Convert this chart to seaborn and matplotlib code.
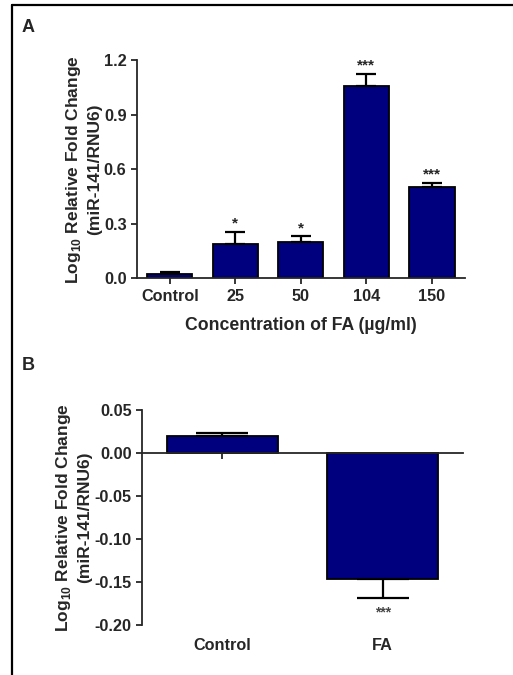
import numpy as np
import pandas as pd
import matplotlib
matplotlib.use("Agg")
import matplotlib.pyplot as plt
from matplotlib.lines import Line2D
import seaborn as sns

# Panel A: dose response
conc_labels = ["Control", "25", "50", "104", "150"]
conc_means = [0.022, 0.187, 0.198, 1.059, 0.504]
conc_errs = [0.011, 0.069, 0.031, 0.067, 0.022]
conc_sig = ["", "*", "*", "***", "***"]

# Panel B: control vs FA
fa_labels = ["Control", "FA"]
fa_means = [0.020, -0.147]
fa_errs = [0.003, 0.022]
fa_sig = ["", "***"]

BAR = "#00007f"

sns.set_style("ticks")
plt.rcParams["font.family"] = ["Liberation Sans", "DejaVu Sans"]
plt.rcParams["font.weight"] = "bold"
plt.rcParams["mathtext.fontset"] = "custom"
plt.rcParams["mathtext.rm"] = "Liberation Sans:bold"
plt.rcParams["mathtext.bf"] = "Liberation Sans:bold"
plt.rcParams["axes.linewidth"] = 1.3

ylab = "Log$_{10}$ Relative Fold Change\n(miR-141/RNU6)"


def one_sided(means, errs):
    lower = [e if m < 0 else 0 for m, e in zip(means, errs)]
    upper = [e if m >= 0 else 0 for m, e in zip(means, errs)]
    return [lower, upper]


def draw_bars(ax, labels, means, errs, capsize):
    df = pd.DataFrame({"group": labels, "value": means})
    sns.barplot(data=df, x="group", y="value", color=BAR, saturation=1,
                edgecolor="black", linewidth=1.3, width=0.69, errorbar=None, ax=ax)
    ax.errorbar(np.arange(len(labels)), means, yerr=one_sided(means, errs),
                fmt="none", ecolor="black", elinewidth=1.6, capsize=capsize,
                capthick=1.6, zorder=1)
    sns.despine(ax=ax)
    ax.set_xlabel("")
    ax.tick_params(axis="both", direction="out", length=4, width=1.3,
                   labelsize=11.7)


fig = plt.figure(figsize=(5.13, 6.75), dpi=100)

# ---- panel A ----
axA = fig.add_axes([0.267, 0.588, 0.639, 0.323])
draw_bars(axA, conc_labels, conc_means, conc_errs, capsize=7)
axA.set_ylim(0, 1.2)
axA.set_xlim(-0.5, 4.5)
axA.set_yticks([0.0, 0.3, 0.6, 0.9, 1.2])
axA.set_yticklabels(["0.0", "0.3", "0.6", "0.9", "1.2"])
axA.set_xlabel("Concentration of FA (µg/ml)", fontsize=12.7, fontweight="bold",
               labelpad=10)
axA.set_ylabel(ylab, fontsize=12.5, fontweight="bold", linespacing=1.3)
axA.yaxis.set_label_coords(-0.107, 0.5)
for i, s in enumerate(conc_sig):
    if s:
        axA.annotate(s, (i, conc_means[i] + conc_errs[i]), xytext=(0, 1),
                     textcoords="offset points", ha="center", va="bottom",
                     fontsize=11)

# ---- panel B ----
axB = fig.add_axes([0.277, 0.074, 0.6255, 0.3186])
draw_bars(axB, fa_labels, fa_means, fa_errs, capsize=19)
axB.set_ylim(-0.2, 0.05)
axB.set_xlim(-0.5, 1.5)
axB.spines["bottom"].set_position(("data", 0))
axB.set_yticks([0.05, 0.0, -0.05, -0.10, -0.15, -0.20])
axB.set_yticklabels(["0.05", "0.00", "-0.05", "-0.10", "-0.15", "-0.20"])
axB.tick_params(axis="x", pad=129)
axB.set_ylabel(ylab, fontsize=12.5, fontweight="bold", linespacing=1.3)
axB.yaxis.set_label_coords(-0.156, 0.5)
for i, s in enumerate(fa_sig):
    if s:
        axB.annotate(s, (i, fa_means[i] - fa_errs[i]), xytext=(0, -5),
                     textcoords="offset points", ha="center", va="top",
                     fontsize=10, color="#444444")

# panel letters and frame
fig.text(28 / 513, 1 - 28 / 675, "A", fontsize=13, fontweight="bold",
         ha="center", va="center")
fig.text(28 / 513, 1 - 365 / 675, "B", fontsize=13, fontweight="bold",
         ha="center", va="center")
fig.add_artist(Line2D([12 / 513, 1], [1 - 5 / 675, 1 - 5 / 675],
                      transform=fig.transFigure, color="black", lw=1.6))
fig.add_artist(Line2D([12 / 513, 12 / 513], [0, 1 - 5 / 675],
                      transform=fig.transFigure, color="black", lw=1.6))

fig.savefig("out.png", dpi=100)
